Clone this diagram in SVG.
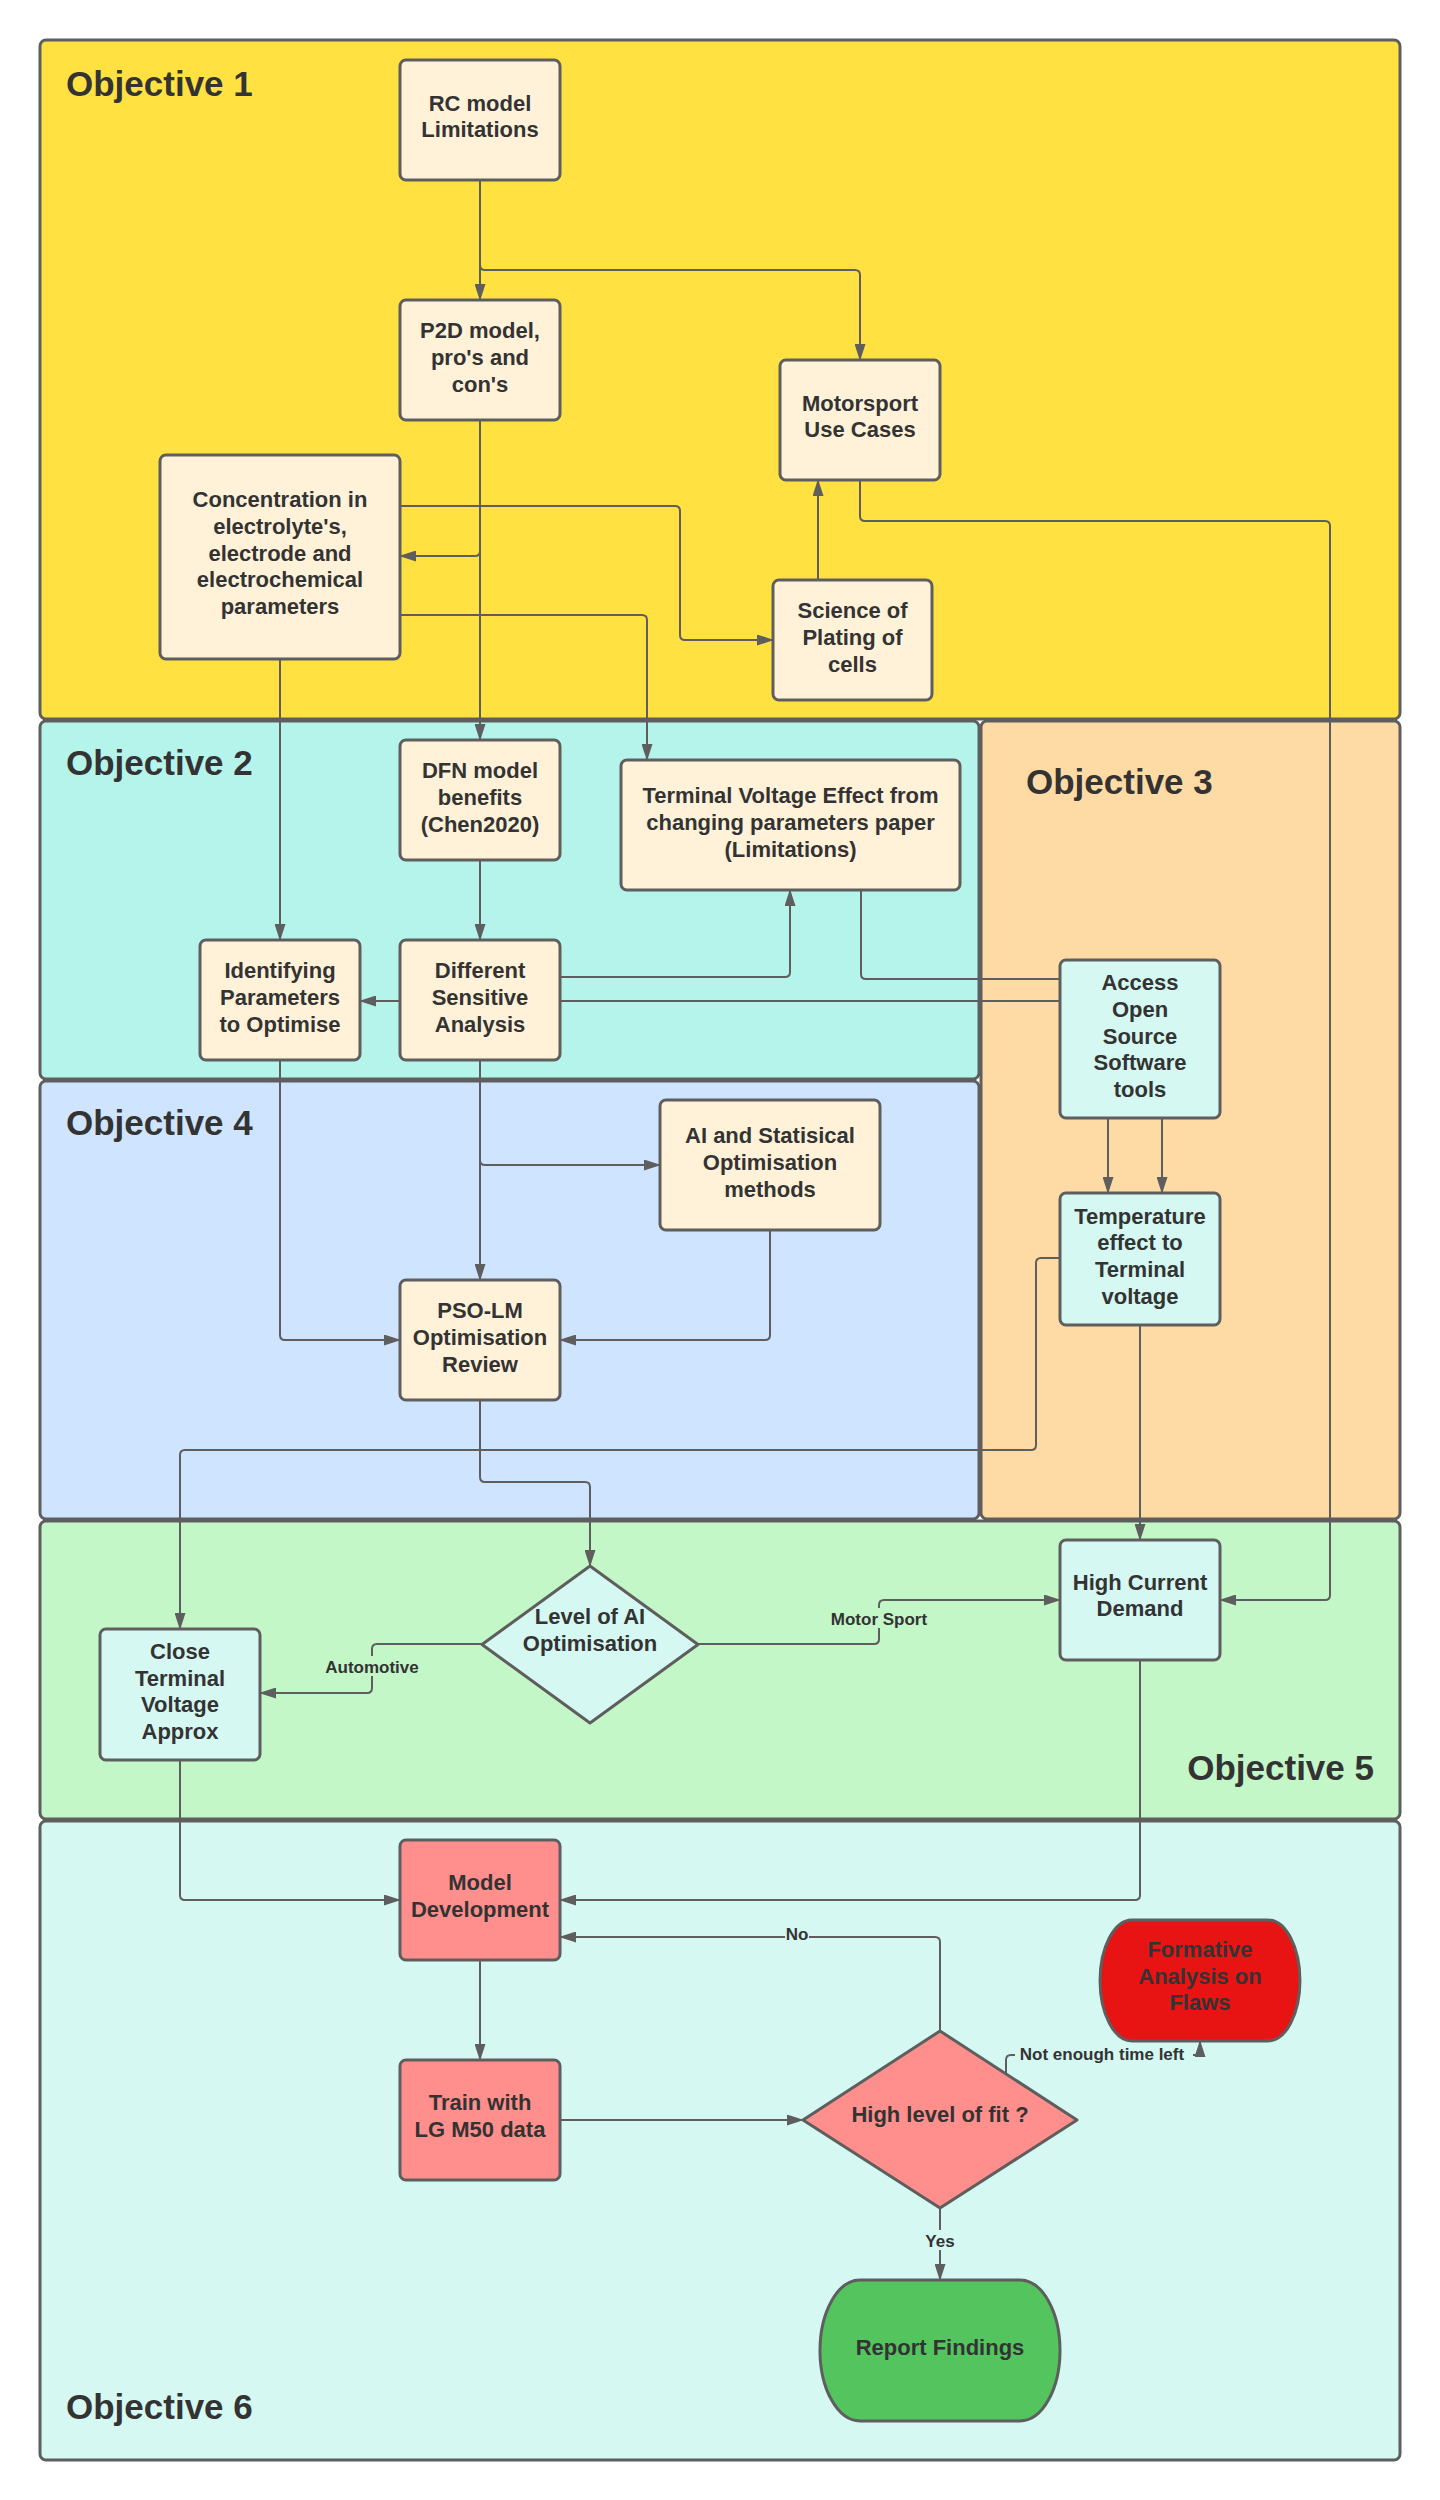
<svg xmlns="http://www.w3.org/2000/svg" width="1440" height="2500" viewBox="0 0 1440 2500">
<defs>
<style>
.ct{stroke:#5E5E5E;stroke-width:3}
.bx{fill:#FFF2D9;stroke:#5E5E5E;stroke-width:3}
.bc{fill:#D5F8F2;stroke:#5E5E5E;stroke-width:3}
.bp{fill:#FF8F8C;stroke:#5E5E5E;stroke-width:3}
.t{font-family:"Liberation Sans",Arial,sans-serif;font-weight:bold;font-size:22px;fill:#333333;text-anchor:middle}
.obj{font-family:"Liberation Sans",Arial,sans-serif;font-weight:bold;font-size:35px;fill:#333333}
.lb{font-family:"Liberation Sans",Arial,sans-serif;font-weight:bold;font-size:17px;fill:#333333;text-anchor:middle}
.cn{fill:none;stroke:#5E5E5E;stroke-width:2;marker-end:url(#ah)}
.cl{fill:none;stroke:#5E5E5E;stroke-width:2}
</style>
<marker id="ah" markerWidth="17" markerHeight="11" refX="16" refY="5.5" orient="auto" markerUnits="userSpaceOnUse"><path d="M0,0 L17,5.5 L0,11 z" fill="#5E5E5E"/></marker>
</defs>
<rect width="1440" height="2500" fill="#FFFFFF"/>
<g id="containers">
<g id="objective1"><rect class="ct" x="40" y="40" width="1360" height="679" rx="6" fill="#FFE241"/><text class="obj" x="66" y="96">Objective 1</text></g>
<g id="objective2"><rect class="ct" x="40" y="721" width="939" height="358" rx="6" fill="#B5F4EA"/><text class="obj" x="66" y="775">Objective 2</text></g>
<g id="objective3"><rect class="ct" x="981" y="721" width="419" height="798" rx="6" fill="#FEDBA4"/><text class="obj" x="1026" y="794">Objective 3</text></g>
<g id="objective4"><rect class="ct" x="40" y="1081" width="939" height="438" rx="6" fill="#CFE4FF"/><text class="obj" x="66" y="1135">Objective 4</text></g>
<g id="objective5"><rect class="ct" x="40" y="1521" width="1360" height="298" rx="6" fill="#C3F7C8"/><text class="obj" x="1374" y="1780" text-anchor="end">Objective 5</text></g>
<g id="objective6"><rect class="ct" x="40" y="1821" width="1360" height="639" rx="6" fill="#D5F8F2"/><text class="obj" x="66" y="2419">Objective 6</text></g>
</g>
<g id="connectors">
<path class="cn" d="M480,180 V300"/>
<path class="cn" d="M480,180 V265 q0,5 5,5 H855 q5,0 5,5 V360"/>
<path class="cn" d="M480,420 V551 q0,5 -5,5 H400"/>
<path class="cn" d="M480,420 V740"/>
<path class="cn" d="M400,506 H675 q5,0 5,5 V635 q0,5 5,5 H773"/>
<path class="cn" d="M400,615 H642 q5,0 5,5 V760"/>
<path class="cn" d="M818,580 V480"/>
<path class="cn" d="M860,480 V516 q0,5 5,5 H1325 q5,0 5,5 V1595 q0,5 -5,5 H1220"/>
<path class="cn" d="M280,659 V940"/>
<path class="cn" d="M480,860 V940"/>
<path class="cn" d="M560,977 H785 q5,0 5,-5 V890"/>
<path class="cn" d="M400,1001 H360"/>
<path class="cl" d="M1060,1001 H560"/>
<path class="cl" d="M861,890 V974 q0,5 5,5 H1060"/>
<path class="cn" d="M1108,1118 V1193"/>
<path class="cn" d="M1162,1118 V1193"/>
<path class="cn" d="M480,1060 V1280"/>
<path class="cn" d="M480,1060 V1160 q0,5 5,5 H660"/>
<path class="cn" d="M280,1060 V1335 q0,5 5,5 H400"/>
<path class="cn" d="M770,1230 V1335 q0,5 -5,5 H560"/>
<path class="cn" d="M1060,1258 H1041 q-5,0 -5,5 V1445 q0,5 -5,5 H185 q-5,0 -5,5 V1629"/>
<path class="cn" d="M480,1400 V1477 q0,5 5,5 H585 q5,0 5,5 V1566"/>
<path class="cn" d="M1140,1325 V1540"/>
<path class="cn" d="M482,1644 H377 q-5,0 -5,5 V1688 q0,5 -5,5 H260"/>
<path class="cn" d="M698,1644 H874 q5,0 5,-5 V1605 q0,-5 5,-5 H1060"/>
<path class="cn" d="M180,1760 V1895 q0,5 5,5 H400"/>
<path class="cn" d="M1140,1660 V1895 q0,5 -5,5 H560"/>
<path class="cn" d="M480,1960 V2060"/>
<path class="cn" d="M560,2120 H803"/>
<path class="cn" d="M940,2031 V1942 q0,-5 -5,-5 H560"/>
<path class="cn" d="M1006,2074 V2060 q0,-5 5,-5 H1195 q5,0 5,-5 V2041"/>
<path class="cn" d="M940,2208 V2280"/>
<g id="edge-labels">
<rect x="330" y="1656" width="84" height="20" fill="#C3F7C8"/><text class="lb" x="372" y="1673">Automotive</text>
<rect x="830" y="1608" width="98" height="20" fill="#C3F7C8"/><text class="lb" x="879" y="1625">Motor Sport</text>
<rect x="785" y="1926" width="24" height="20" fill="#D5F8F2"/><text class="lb" x="797" y="1940">No</text>
<rect x="1015" y="2046" width="178" height="18" fill="#D5F8F2"/><text class="lb" x="1102" y="2060">Not enough time left</text>
<rect x="925" y="2230" width="30" height="20" fill="#D5F8F2"/><text class="lb" x="940" y="2247">Yes</text>
</g>
</g>
<g id="rc-model"><rect class="bx" x="400" y="60" width="160" height="120" rx="6"/><text class="t"><tspan x="480" y="110.7">RC model</tspan><tspan x="480" y="137.4">Limitations</tspan></text></g>
<g id="p2d-model"><rect class="bx" x="400" y="300" width="160" height="120" rx="6"/><text class="t"><tspan x="480" y="338.3">P2D model,</tspan><tspan x="480" y="365">pro's and</tspan><tspan x="480" y="391.7">con's</tspan></text></g>
<g id="motorsport-use-cases"><rect class="bx" x="780" y="360" width="160" height="120" rx="6"/><text class="t"><tspan x="860" y="410.7">Motorsport</tspan><tspan x="860" y="437.4">Use Cases</tspan></text></g>
<g id="concentration"><rect class="bx" x="160" y="455" width="240" height="204" rx="6"/><text class="t"><tspan x="280" y="507.1">Concentration in</tspan><tspan x="280" y="533.8">electrolyte's,</tspan><tspan x="280" y="560.5">electrode and</tspan><tspan x="280" y="587.2">electrochemical</tspan><tspan x="280" y="613.9">parameters</tspan></text></g>
<g id="science-of-plating"><rect class="bx" x="773" y="580" width="159" height="120" rx="6"/><text class="t"><tspan x="852.5" y="618.3">Science of</tspan><tspan x="852.5" y="645">Plating of</tspan><tspan x="852.5" y="671.7">cells</tspan></text></g>
<g id="dfn-model"><rect class="bx" x="400" y="740" width="160" height="120" rx="6"/><text class="t"><tspan x="480" y="778.3">DFN model</tspan><tspan x="480" y="805">benefits</tspan><tspan x="480" y="831.7">(Chen2020)</tspan></text></g>
<g id="terminal-voltage-effect"><rect class="bx" x="621" y="760" width="339" height="130" rx="6"/><text class="t"><tspan x="790.5" y="803.3">Terminal Voltage Effect from</tspan><tspan x="790.5" y="830">changing parameters paper</tspan><tspan x="790.5" y="856.7">(Limitations)</tspan></text></g>
<g id="identifying-parameters"><rect class="bx" x="200" y="940" width="160" height="120" rx="6"/><text class="t"><tspan x="280" y="978.3">Identifying</tspan><tspan x="280" y="1005">Parameters</tspan><tspan x="280" y="1031.7">to Optimise</tspan></text></g>
<g id="different-sensitive-analysis"><rect class="bx" x="400" y="940" width="160" height="120" rx="6"/><text class="t"><tspan x="480" y="978.3">Different</tspan><tspan x="480" y="1005">Sensitive</tspan><tspan x="480" y="1031.7">Analysis</tspan></text></g>
<g id="access-open-source"><rect class="bc" x="1060" y="960" width="160" height="158" rx="6"/><text class="t"><tspan x="1140" y="990.1">Access</tspan><tspan x="1140" y="1016.8">Open</tspan><tspan x="1140" y="1043.5">Source</tspan><tspan x="1140" y="1070.2">Software</tspan><tspan x="1140" y="1096.9">tools</tspan></text></g>
<g id="temperature-effect"><rect class="bc" x="1060" y="1193" width="160" height="132" rx="6"/><text class="t"><tspan x="1140" y="1223.5">Temperature</tspan><tspan x="1140" y="1250.2">effect to</tspan><tspan x="1140" y="1276.9">Terminal</tspan><tspan x="1140" y="1303.6">voltage</tspan></text></g>
<g id="ai-statistical-methods"><rect class="bx" x="660" y="1100" width="220" height="130" rx="6"/><text class="t"><tspan x="770" y="1143.3">AI and Statisical</tspan><tspan x="770" y="1170">Optimisation</tspan><tspan x="770" y="1196.7">methods</tspan></text></g>
<g id="pso-lm-review"><rect class="bx" x="400" y="1280" width="160" height="120" rx="6"/><text class="t"><tspan x="480" y="1318.3">PSO-LM</tspan><tspan x="480" y="1345">Optimisation</tspan><tspan x="480" y="1371.7">Review</tspan></text></g>
<g id="level-of-ai"><polygon class="bc" stroke-linejoin="round" points="590,1566 698,1644.5 590,1723 482,1644.5"/><text class="t"><tspan x="590" y="1624">Level of AI</tspan><tspan x="590" y="1650.7">Optimisation</tspan></text></g>
<g id="close-terminal-voltage"><rect class="bc" x="100" y="1629" width="160" height="131" rx="6"/><text class="t"><tspan x="180" y="1659">Close</tspan><tspan x="180" y="1685.7">Terminal</tspan><tspan x="180" y="1712.4">Voltage</tspan><tspan x="180" y="1739.1">Approx</tspan></text></g>
<g id="high-current-demand"><rect class="bc" x="1060" y="1540" width="160" height="120" rx="6"/><text class="t"><tspan x="1140" y="1589.7">High Current</tspan><tspan x="1140" y="1616.4">Demand</tspan></text></g>
<g id="model-development"><rect class="bp" x="400" y="1840" width="160" height="120" rx="6"/><text class="t"><tspan x="480" y="1890.2">Model</tspan><tspan x="480" y="1916.9">Development</tspan></text></g>
<g id="train-lg-m50"><rect class="bp" x="400" y="2060" width="160" height="120" rx="6"/><text class="t"><tspan x="480" y="2110.2">Train with</tspan><tspan x="480" y="2136.9">LG M50 data</tspan></text></g>
<g id="high-level-of-fit"><polygon class="bp" stroke-linejoin="round" points="940,2031 1077,2120 940,2208 803,2120"/><text class="t" x="940" y="2122">High level of fit ?</text></g>
<g id="formative-analysis"><path d="M1132,1920 H1268 A32,60.5 0 0 1 1268,2041 H1132 A32,60.5 0 0 1 1132,1920 Z" fill="#E81414" stroke="#5E5E5E" stroke-width="3"/><text class="t"><tspan x="1200" y="1956.8">Formative</tspan><tspan x="1200" y="1983.5">Analysis on</tspan><tspan x="1200" y="2010.2">Flaws</tspan></text></g>
<g id="report-findings"><path d="M860,2280 H1020 A40,70.5 0 0 1 1020,2421 H860 A40,70.5 0 0 1 860,2280 Z" fill="#54C45E" stroke="#5E5E5E" stroke-width="3"/><text class="t" x="940" y="2355">Report Findings</text></g>
</svg>
